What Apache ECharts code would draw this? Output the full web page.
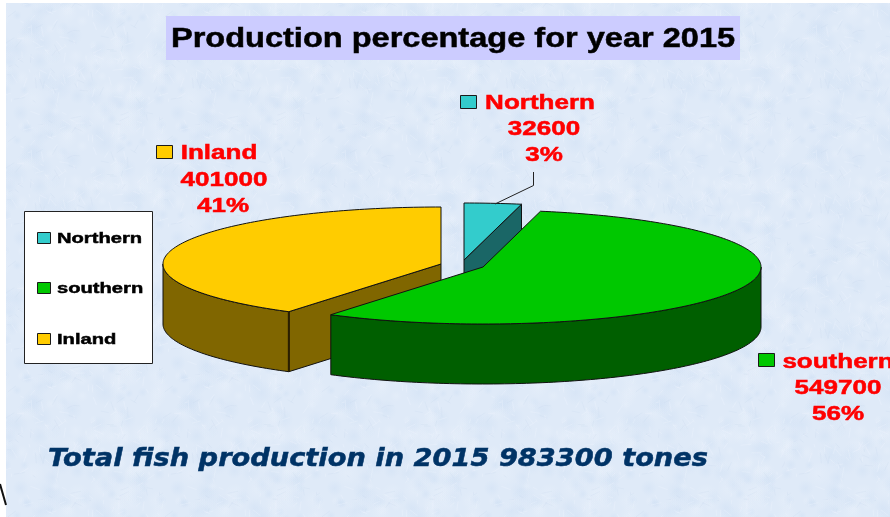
<!DOCTYPE html>
<html>
<head>
<meta charset="utf-8">
<style>html,body{margin:0;padding:0;background:#fff}#chart{width:890px;height:517px}</style>
<script src="https://cdn.jsdelivr.net/npm/echarts@6/dist/echarts.min.js"></script>
</head>
<body>
<div id="chart"></div>
<script>
// Fish production by region, 2015 (tones)
const regions = ['Northern', 'southern', 'Inland'];
const production = [32600, 549700, 401000];
const chartTitle = 'Production percentage for year 2015';
const totalNote = 'Total fish production in 2015 983300 tones';

// Styling and placement of the projected pie, per region
const SANS = '"Liberation Sans", Arial, sans-serif';
const look = {
  Northern: { top: '#33CCCC', side: '#1A6666', cx: 464, cy: 260, order: 1,
    key: [460, 95], lines: [[540, 109], [544, 135], [544, 161]] },
  southern: { top: '#00C800', side: '#005F00', cx: 483, cy: 267, order: 3,
    key: [758, 353], lines: [[838, 368], [838, 394], [838, 420]] },
  Inland: { top: '#FFCC00', side: '#806600', cx: 441, cy: 264, order: 2,
    key: [156, 145], lines: [[219, 159], [224, 186], [223, 212]] }
};
const RX = 278, RY = 57, DEPTH = 60;
const legendRows = [238, 288, 339];

const total = production.reduce((a, b) => a + b, 0);

// Clockwise angle from 12 o'clock projected on the tilted ellipse
function rim(cx, cy, a, drop) {
  return [cx + RX * Math.sin(a), cy - RY * Math.cos(a) + (drop || 0)];
}
function arc(cx, cy, a0, a1, drop) {
  const steps = Math.max(2, Math.ceil(Math.abs(a1 - a0) / 0.02));
  const pts = [];
  for (let i = 0; i <= steps; i++) pts.push(rim(cx, cy, a0 + (a1 - a0) * i / steps, drop));
  return pts;
}

function scaledText(text, x, baseline, size, scale, fill, family, extra) {
  return {
    type: 'text', x: x, y: baseline, scaleX: scale, silent: true,
    style: Object.assign({
      text: text, x: 0, y: 0, fill: fill, stroke: fill, lineWidth: 0.5,
      font: 'bold ' + size + 'px ' + (family || SANS),
      align: 'center', verticalAlign: 'bottom'
    }, extra || {})
  };
}

function swatch(x, y, w, h, fill) {
  return { type: 'rect', shape: { x: x + 0.5, y: y + 0.5, width: w, height: h },
    style: { fill: fill, stroke: '#1a1a1a', lineWidth: 1 } };
}

const outline = { stroke: '#111', lineWidth: 1, lineJoin: 'round' };

function renderSlice(params, api) {
  const name = regions[params.dataIndex];
  const s = look[name];
  const before = production.slice(0, params.dataIndex).reduce((a, b) => a + b, 0);
  const a0 = before / total * Math.PI * 2;
  const a1 = (before + api.value(0)) / total * Math.PI * 2;
  const base = s.order * 10;
  const kids = [];
  const apex = [s.cx, s.cy];
  const w0 = Math.max(a0, Math.PI / 2), w1 = Math.min(a1, Math.PI * 1.5);

  // Radial cut faces that turn toward the viewer
  [[a0, Math.cos(a0 - Math.PI / 2)], [a1, Math.cos(a1 + Math.PI / 2)]].forEach(function (edge) {
    if (edge[1] < -1e-6) {
      const p = rim(s.cx, s.cy, edge[0]);
      kids.push({ type: 'polygon', z2: base,
        shape: { points: [apex, p, [p[0], p[1] + DEPTH], [apex[0], apex[1] + DEPTH]] },
        style: Object.assign({ fill: s.side }, outline) });
      // Corner where the cut face meets the outer wall
      if (edge[0] >= w0 && edge[0] <= w1) {
        kids.push({ type: 'line', z2: base + 3,
          shape: { x1: p[0], y1: p[1], x2: p[0], y2: p[1] + DEPTH },
          style: { stroke: '#2a1f00', lineWidth: 2 } });
      }
    }
  });

  // Outer wall: only the near half of the rim is visible
  if (w1 > w0) {
    kids.push({ type: 'polygon', z2: base + 1,
      shape: { points: arc(s.cx, s.cy, w0, w1, 0).concat(arc(s.cx, s.cy, w1, w0, DEPTH)) },
      style: Object.assign({ fill: s.side }, outline) });
  }

  // Top face
  kids.push({ type: 'polygon', z2: base + 2,
    shape: { points: [apex].concat(arc(s.cx, s.cy, a0, a1, 0)) },
    style: Object.assign({ fill: s.top }, outline) });

  // Data label: key, name, value, share
  const value = api.value(0);
  kids.push(Object.assign(swatch(s.key[0], s.key[1], 16, 13, s.top), { z2: 50 }));
  [name, String(value), Math.round(value / total * 100) + '%'].forEach(function (t, i) {
    kids.push(Object.assign(
      scaledText(t, s.lines[i][0], s.lines[i][1] + 4, 20, 1.3, '#FF0000'), { z2: 50 }));
  });

  return { type: 'group', children: kids };
}

// Pale blue paper grain, one repeating tile built from a fixed hash
function paperTile() {
  const w = 157, h = 125;
  const c = document.createElement('canvas');
  c.width = w; c.height = h;
  const g = c.getContext('2d');
  g.fillStyle = '#DFEAF8';
  g.fillRect(0, 0, w, h);
  const hash = function (n) { const v = Math.sin(n * 127.1 + 3.7) * 43758.5453; return v - Math.floor(v); };
  for (let i = 0; i < 110; i++) {
    const x = hash(i) * w, y = hash(i + 500) * h, r = 4 + hash(i + 900) * 9;
    const tint = i % 2 ? 'rgba(198,218,242,' : 'rgba(238,244,252,';
    for (let ox = -w; ox <= w; ox += w) for (let oy = -h; oy <= h; oy += h) {
      const gr = g.createRadialGradient(x + ox, y + oy, 0, x + ox, y + oy, r);
      gr.addColorStop(0, tint + '0.28)');
      gr.addColorStop(1, tint + '0)');
      g.fillStyle = gr;
      g.fillRect(x + ox - r, y + oy - r, r * 2, r * 2);
    }
  }
  g.lineWidth = 0.6;
  for (let i = 0; i < 170; i++) {
    const x = hash(i + 1300) * w, y = hash(i + 1700) * h, a = hash(i + 2100) * 6.28, l = 3 + hash(i + 2500) * 8;
    g.strokeStyle = i % 3 ? 'rgba(245,249,255,0.45)' : 'rgba(186,206,232,0.28)';
    g.beginPath();
    g.moveTo(x, y);
    g.lineTo(x + Math.cos(a) * l, y + Math.sin(a) * l);
    g.stroke();
  }
  return c;
}

const legendGraphics = [{ type: 'rect', z: 5,
  shape: { x: 24.5, y: 211.5, width: 128, height: 152 },
  style: { fill: '#fff', stroke: '#222', lineWidth: 1 } }];
regions.forEach(function (name, i) {
  legendGraphics.push(Object.assign(swatch(37, legendRows[i] - 6, 13, 11, look[name].top), { z: 6 }));
  legendGraphics.push(Object.assign(
    scaledText(name, 57, legendRows[i] + 9, 15.5, 1.3, '#000', SANS, { align: 'left' }), { z: 6 }));
});

const chart = echarts.init(document.getElementById('chart'), null, { renderer: 'canvas' });
chart.setOption({
  backgroundColor: '#fff',
  animation: false,
  graphic: [
    { type: 'rect', z: -10, silent: true, shape: { x: 6, y: 3, width: 884, height: 514 },
      style: { fill: { image: paperTile(), repeat: 'repeat' } } },
    { type: 'polyline', z: 4, silent: true, shape: { points: [[0, 484], [6, 505]] },
      style: { stroke: '#111', lineWidth: 2, fill: null } },
    { type: 'rect', z: 1, silent: true, shape: { x: 166, y: 16, width: 574, height: 44 },
      style: { fill: '#CCCCFF' } },
    Object.assign(scaledText(chartTitle, 453, 53, 27, 1.205, '#000'), { z: 2 }),
    // Leader from the Northern slice to its label
    { type: 'polyline', z: 4, silent: true, shape: { points: [[495, 204], [533.5, 185.5], [533.5, 172]] },
      style: { stroke: '#222', lineWidth: 1, fill: null } },
    Object.assign(scaledText(totalNote, 378, 472, 25, 1.09, '#003366',
      '"DejaVu Sans", sans-serif', { font: 'italic bold 25px "DejaVu Sans", sans-serif' }), { z: 2 })
  ].concat(legendGraphics),
  series: [{
    type: 'custom',
    name: 'Production',
    coordinateSystem: 'none',
    silent: true,
    clip: false,
    data: production.map(function (v, i) { return { name: regions[i], value: [v] }; }),
    renderItem: renderSlice
  }]
});
</script>
</body>
</html>
